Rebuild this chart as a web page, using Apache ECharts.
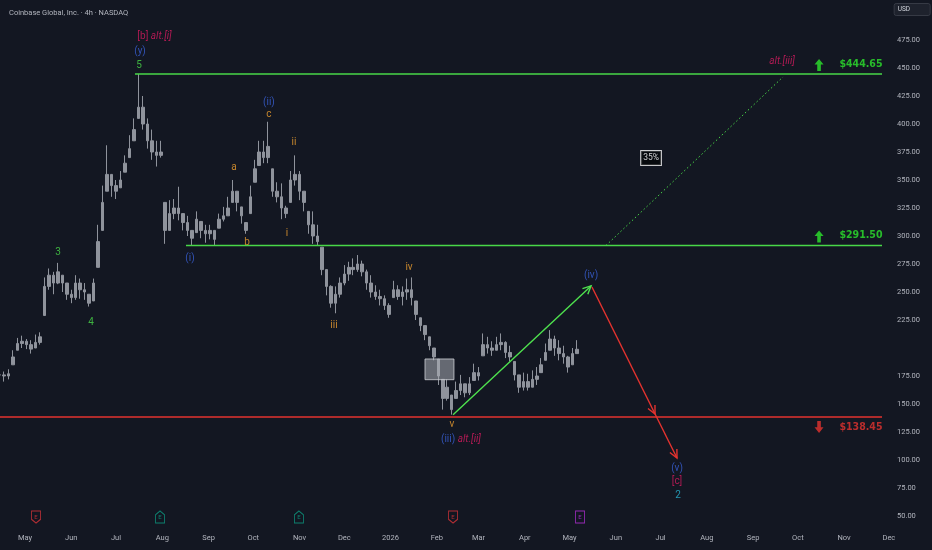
<!DOCTYPE html>
<html><head><meta charset="utf-8">
<script src="https://cdn.jsdelivr.net/npm/echarts@6/dist/echarts.min.js"></script>
<style>html,body{margin:0;padding:0;background:#131722;}#c{width:932px;height:550px;}</style>
</head><body><div id="c"></div>
<script>
// ---------- DATA ----------
const chartTitle = 'Coinbase Global, Inc. · 4h · NASDAQ';
const currency = 'USD';
const monthNames = ['Jan','Feb','Mar','Apr','May','Jun','Jul','Aug','Sep','Oct','Nov','Dec'];
// bars every 3 days starting at barStart
const barStart = '2025-04-14';
const barStepDays = 3;
const closes = [176,175,177,192,204,206,203,199,205,210, 255,265,258,268,258,248,245,258,252,250,
 240,258,295,330,355,345,340,350,365,378, 395,415,400,385,375,372,375,305,320,325,
 320,312,305,298,315,305,302,305,297,315, 318,325,340,330,318,305,335,360,375,370,
 380,340,335,325,320,350,355,340,330,310, 300,295,270,255,240,248,258,266,272,270,
 275,268,258,250,246,244,238,230,252,246, 250,252,245,230,220,212,202,192,175,155,
 165,145,162,168,160,168,178,175,203,200, 198,203,205,196,192,176,165,170,165,172,
 175,185,196,208,200,195,192,183,195,198.86];
const highs = [180,179,181,198,209,211,208,207,212,214, 263,271,268,276,265,258,252,265,262,258,
 248,262,310,345,381,355,350,358,372,390, 405,444.65,425,405,395,385,385,330,332,333,
 344,320,318,305,322,313,310,310,305,320, 326,335,350,340,326,312,345,368,385,385,
 402,360,348,347,327,358,372,358,340,322, 322,310,290,270,256,255,263,274,277,280,
 283,278,270,265,256,252,247,240,260,256, 255,262,263,242,227,220,210,200,190,172,
 172,158,170,176,168,174,186,183,213,210, 206,210,213,206,202,188,176,178,177,180,
 183,191,204,216,211,207,202,193,200,207];
const lows = [172,170,172,185,198,200,199,195,200,203, 229,252,248,257,250,243,240,243,244,243,
 237,242,272,305,340,335,333,343,357,370, 385,405,395,378,368,362,370,293,305,315,
 314,305,300,292,303,298,294,297,292,307, 313,318,330,322,311,302,320,348,363,365,
 365,335,330,315,316,330,345,332,322,302, 293,292,265,247,236,231,245,256,260,265,
 268,264,252,245,243,238,234,227,245,243, 238,243,238,225,215,207,198,189,167,145,
 153,140.5,155,158,156,158,171,171,193,195, 193,198,198,191,188,171,160,162,162,165,
 167,178,189,198,193,189,186,178,185,195];
const lastPrice = 198.86;
const countdown = '02:13:06';
// day offsets are counted from 2025-05-01
const levels = [444.65, 291.50, 138.45];
const levelTags = ['$444.65', '$291.50', '$138.45'];
const levelDirs = ['up', 'up', 'down'];
const levelStartDays = [73.7, 107.9, -17];
const levelEndDay = 574.4;
const altPath = [[389.4, 291.5], [508, 442]];
const arrows = [ // [day1, price1, day2, price2, kind]
  [286.9, 140.5, 379.4, 255.4, 'up'],
  [380, 254.5, 422.3, 141.1, 'down'],
  [422.3, 141.1, 437, 101.8, 'down']
];
const zoneBox = [268.1, 190.2, 287.5, 171.7];
const probText = '35%';
const probPos = [419.6, 369.6];
const waveLabels = [ // [text, day, price, colour]
  ['{b|[b]} {it|alt.[i]}', 86.8, 477.7, 'pink'],
  ['(y)', 77.1, 464.3, 'blue'],
  ['5', 76.4, 451.8, 'green'],
  ['3', 22.1, 285.7, 'green'],
  ['4', 44.2, 223.2, 'green'],
  ['(i)', 110.6, 279.5, 'blue'],
  ['a', 140.1, 361.6, 'orange'],
  ['b', 148.8, 294.6, 'orange'],
  ['(ii)', 163.5, 419.6, 'blue'],
  ['c', 163.5, 408.9, 'orange'],
  ['ii', 180.3, 383.9, 'orange'],
  ['i', 175.6, 301.8, 'orange'],
  ['iii', 207.1, 220.5, 'orange'],
  ['iv', 257.4, 272.3, 'orange'],
  ['v', 286.2, 132.1, 'orange'],
  ['{bl|(iii)} {it|alt.[ii]}', 292.2, 118.75, 'pink'],
  ['(iv)', 379.4, 264.3, 'blue'],
  ['(v)', 437, 92, 'blue'],
  ['[c]', 437, 80.4, 'pink'],
  ['2', 437.7, 68.75, 'cyan'],
  ['{it|alt.[iii]}', 507.4, 456.25, 'pink']
];
const earningsDays = [7.4, 90.5, 183.6, 286.9, 372];
const earningsKinds = ['miss', 'beat', 'beat', 'miss', 'next'];
const earningsPrice = 49.1;

// ---------- STYLE ----------
const C = {bg:'#131722', text:'#b2b5be', bar:'#8f939c', green:'#48d848', tag:'#2de62d',
  red:'#e5332f', pink:'#d81b60', blue:'#3a62d9', orange:'#f0a030', cyan:'#29b6d6',
  arrowGreen:'#4ee24e', miss:'#d8343a', beat:'#0e9b82', next:'#b62fd8'};
const FONT = 'Roboto, "Noto Sans", sans-serif';
const DAY = 864e5;
const T0 = Date.UTC(2025, 4, 1);
const T = d => T0 + d * DAY;
const PXDAY = 1.492, X0 = 25, PLOT_RIGHT = 893, PLOT_BOTTOM = 544, PXUNIT = 1.12, YMIN = 25;

const startMs = Date.parse(barStart + 'T00:00:00Z');
const bars = closes.map((c, i) => {
  const prev = i === 0 ? c : closes[i - 1];
  const o = Math.min(highs[i], Math.max(lows[i], prev));
  return [startMs + i * barStepDays * DAY, o, c, lows[i], highs[i]];
});

const shapes = {
  miss: 'path://M0,0 L10,0 L10,9 L5,13 L0,9 Z',
  beat: 'path://M5,0 L10,4 L10,13 L0,13 L0,4 Z',
  next: 'path://M0,0 L10,0 L10,12 L0,12 Z'
};
const upArrow = 'path://M5,0 L10,6 L7,6 L7,13 L3,13 L3,6 L0,6 Z';
const downArrow = 'path://M3,0 L7,0 L7,7 L10,7 L5,13 L0,7 L3,7 Z';

const chart = echarts.init(document.getElementById('c'));
const option = {
  backgroundColor: C.bg,
  animation: false,
  useUTC: true,
  textStyle: {fontFamily: FONT},
  title: [
    {text: chartTitle, left: 4, top: 4, textStyle: {color: C.text, fontSize: 7.5, fontWeight: 'normal', fontFamily: FONT}},
    {text: currency, right: 2, top: 3, backgroundColor: '#1e222d', borderColor: '#363a45', borderWidth: 1,
     padding: [3, 20, 3, 4], borderRadius: 2, textStyle: {color: '#d1d4dc', fontSize: 6.5, fontWeight: 'normal', fontFamily: FONT}}
  ],
  grid: {left: 0, right: 932 - PLOT_RIGHT, top: 0, bottom: 550 - PLOT_BOTTOM},
  xAxis: {
    type: 'time',
    min: T(-X0 / PXDAY), max: T((PLOT_RIGHT - X0) / PXDAY),
    splitNumber: 20, minInterval: 28 * DAY, maxInterval: 31 * DAY,
    axisLine: {show: false}, axisTick: {show: false}, splitLine: {show: false},
    axisLabel: {inside: true, margin: 2, color: C.text, fontSize: 7.5, fontFamily: FONT,
      formatter: v => { const d = new Date(v); const m = d.getUTCMonth(); return m === 0 ? String(d.getUTCFullYear()) : monthNames[m]; }}
  },
  yAxis: {
    type: 'value', position: 'right', min: YMIN, max: YMIN + PLOT_BOTTOM / PXUNIT, interval: 25,
    axisLine: {show: false}, axisTick: {show: false}, splitLine: {show: false},
    axisLabel: {margin: 4, color: C.text, fontSize: 7.5, fontFamily: FONT, showMaxLabel: false,
      formatter: v => (v < 50 || v > 475 || v === 200) ? '' : v.toFixed(2)}
  },
  series: [
    {
      type: 'candlestick', data: bars, encode: {x: 0, y: [1, 2, 3, 4]}, barWidth: 3, z: 2,
      itemStyle: {color: C.bar, color0: C.bar, borderColor: C.bar, borderColor0: C.bar, borderWidth: 1},
      markLine: {
        silent: true, symbol: 'none', lineStyle: {opacity: 0},
        data: [{yAxis: lastPrice}],
        label: {position: 'end', distance: 0, formatter: lastPrice.toFixed(2) + '\n' + countdown,
          backgroundColor: '#ffffff', color: '#131722', fontSize: 7.5, lineHeight: 10, padding: [2, 3], align: 'left'}
      }
    },
    // zone box
    {
      type: 'custom', z: 3, data: [zoneBox.map((v, i) => i % 2 === 0 ? T(v) : v)],
      encode: {x: [0, 2], y: [1, 3]},
      renderItem: (p, api) => {
        const a = api.coord([api.value(0), api.value(1)]);
        const b = api.coord([api.value(2), api.value(3)]);
        return {type: 'rect', shape: {x: a[0], y: a[1], width: b[0] - a[0], height: b[1] - a[1]},
          style: {fill: 'rgba(170,173,180,0.55)', stroke: 'rgba(205,208,214,0.8)', lineWidth: 1}};
      }
    },
    // level lines
    ...levels.map((lv, i) => ({
      type: 'line', z: 4, symbol: 'none', silent: true,
      data: [[T(levelStartDays[i]), lv], [T(levelEndDay), lv]],
      lineStyle: {color: levelDirs[i] === 'up' ? C.green : C.red, width: 1.6}
    })),
    // alternative dotted path
    {
      type: 'line', z: 4, symbol: 'none', silent: true,
      data: altPath.map(p => [T(p[0]), p[1]]),
      lineStyle: {color: C.green, width: 1, type: [1.5, 2.5]}
    },
    // arrows
    {
      type: 'custom', z: 5, data: arrows.map(a => [T(a[0]), a[1], T(a[2]), a[3]]),
      encode: {x: [0, 2], y: [1, 3]},
      renderItem: (p, api) => {
        const a = api.coord([api.value(0), api.value(1)]);
        const b = api.coord([api.value(2), api.value(3)]);
        const col = arrows[p.dataIndex][4] === 'up' ? C.arrowGreen : C.red;
        const ang = Math.atan2(b[1] - a[1], b[0] - a[0]);
        const L = 9, w = Math.PI / 7;
        const h1 = [b[0] - L * Math.cos(ang - w), b[1] - L * Math.sin(ang - w)];
        const h2 = [b[0] - L * Math.cos(ang + w), b[1] - L * Math.sin(ang + w)];
        return {type: 'group', children: [
          {type: 'line', shape: {x1: a[0], y1: a[1], x2: b[0], y2: b[1]}, style: {stroke: col, lineWidth: 1.4}},
          {type: 'polyline', shape: {points: [h1, b, h2]}, style: {stroke: col, lineWidth: 1.4, fill: null}}
        ]};
      }
    },
    // wave labels
    {
      type: 'scatter', z: 6, symbolSize: 0, silent: true,
      data: waveLabels.map(w => ({value: [T(w[1]), w[2]], label: {formatter: w[0], color: C[w[3]]}})),
      label: {show: true, position: 'inside', fontSize: 10, fontFamily: FONT,
        rich: {
          b: {color: C.pink, fontSize: 10, fontFamily: FONT},
          bl: {color: C.blue, fontSize: 10, fontFamily: FONT},
          it: {color: C.pink, fontSize: 10, fontStyle: 'italic', fontFamily: FONT}
        }}
    },
    // probability box
    {
      type: 'scatter', z: 6, symbolSize: 0, silent: true,
      data: [[T(probPos[0]), probPos[1]]],
      label: {show: true, position: 'inside', formatter: probText, color: '#ffffff', fontSize: 8.5,
        backgroundColor: '#05070a', borderColor: '#ffffff', borderWidth: 1, padding: [3, 2, 2, 2], fontFamily: FONT}
    },
    // level price tags
    {
      type: 'scatter', z: 6, symbolSize: 0, silent: true,
      data: levels.map((lv, i) => ({value: [T(560.3), lv + (levelDirs[i] === 'up' ? 8.9 : -8.9)],
        label: {formatter: levelTags[i], color: levelDirs[i] === 'up' ? C.tag : C.red}})),
      label: {show: true, position: 'inside', fontSize: 10.5, fontWeight: 'bold',
        fontFamily: '"Liberation Sans Narrow", "DejaVu Sans Condensed", Roboto, sans-serif'}
    },
    // level arrows
    {
      type: 'scatter', z: 6, silent: true, symbolSize: [9, 12],
      data: levels.map((lv, i) => ({value: [T(532.2), lv + (levelDirs[i] === 'up' ? 8 : -8.9)],
        symbol: levelDirs[i] === 'up' ? upArrow : downArrow,
        itemStyle: {color: levelDirs[i] === 'up' ? C.tag : C.red}}))
    },
    // earnings markers
    {
      type: 'scatter', z: 6, silent: true, symbolSize: [9, 12],
      data: earningsDays.map((d, i) => ({value: [T(d), earningsPrice], symbol: shapes[earningsKinds[i]],
        itemStyle: {color: C.bg, borderColor: C[earningsKinds[i]], borderWidth: 1},
        label: {color: C[earningsKinds[i]]}})),
      label: {show: true, position: 'inside', formatter: 'E', fontSize: 6, fontFamily: FONT}
    }
  ]
};
chart.setOption(option);
</script>
</body></html>
